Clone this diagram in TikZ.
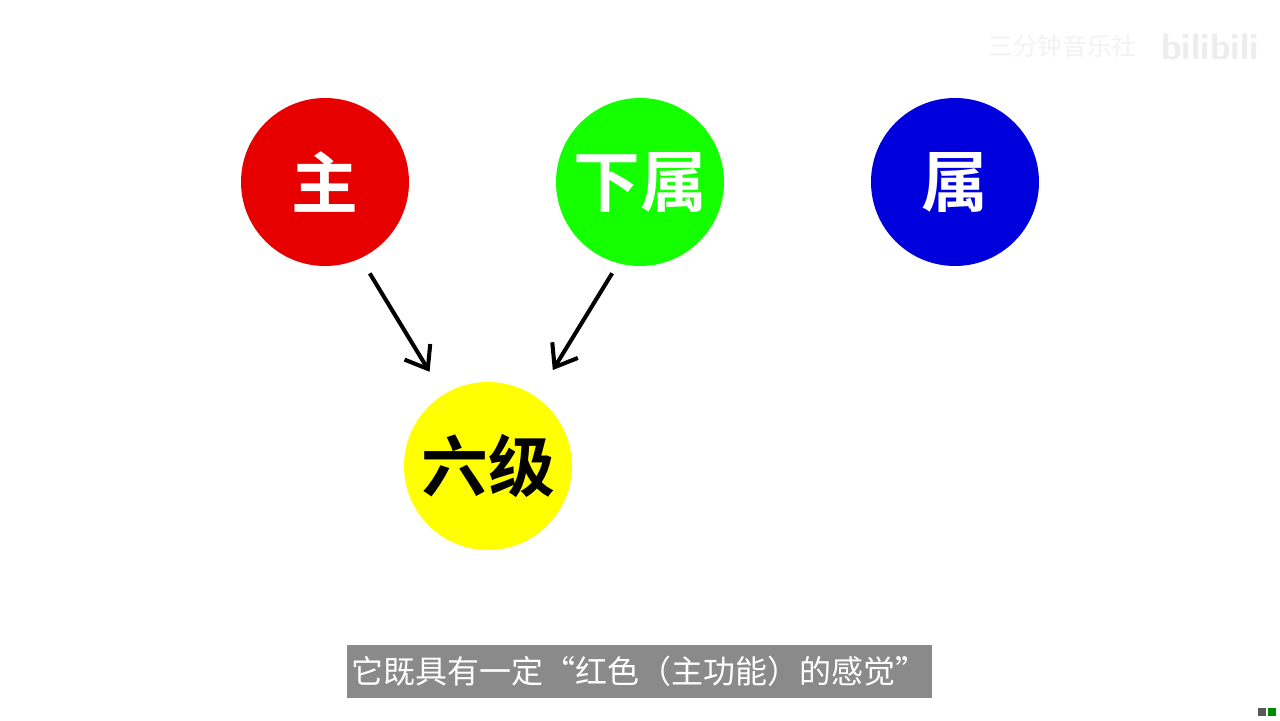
\documentclass[tikz,border=0pt]{standalone}
\usepackage{fontspec}
\newfontfamily\cjk{Noto Sans CJK SC}
\newfontfamily\cjkbold{Noto Sans CJK SC Bold}
\usepackage{xcolor}
\usetikzlibrary{arrows.meta,calc}
\definecolor{chordred}{HTML}{E60000}
\definecolor{chordgreen}{HTML}{14FF00}
\definecolor{chordblue}{HTML}{0000DD}
\definecolor{chordyellow}{HTML}{FFFF00}
\definecolor{subgray}{HTML}{8A8A8A}
\tikzset{>={Straight Barb[length=0.4cm,width=0.6cm]}}
\tikzset{ball/.style={circle,minimum size=3.36cm,inner sep=0pt,text=white,font=\cjkbold\fontsize{38}{38}\selectfont}}
\tikzset{flow/.style={->,line width=2.3pt,black}}

\begin{document}
\begin{tikzpicture}
  \useasboundingbox (0,0) rectangle (25.6,14.4);
  \fill[white] (0,0) rectangle (25.6,14.4);

  % function circles
  \node[ball,fill=chordred] (tonic) at (6.5,10.76) {主};
  \node[ball,fill=chordgreen] (subdom) at (12.8,10.76) {下属};
  \node[ball,fill=chordblue] (dom) at (19.1,10.76) {属};

  % sixth degree
  \node[ball,fill=chordyellow,text=black] (six) at (9.76,5.08) {六级};

  % arrows into the sixth
  \draw[flow,shorten <=0.35cm,shorten >=0.53cm] (tonic.295) -- (six.122);
  \draw[flow,shorten <=0.23cm,shorten >=0.63cm] (subdom.255) -- (six.55);

  % subtitle
  \node[fill=subgray,text=white,minimum width=11.7cm,minimum height=1.06cm,inner sep=0pt,
        font=\cjk\fontsize{18.2}{18.2}\selectfont] (caption) at (12.79,0.97)
        {它既具有一定“红色（主功能）的感觉”};

  % watermark
  \node[text=black!5,font=\cjk\fontsize{14}{14}\selectfont,anchor=east] (mark) at (22.85,13.48) {三分钟音乐社};
  \node[text=black!7,font=\sffamily\bfseries\fontsize{21}{21}\selectfont,anchor=west] (logo) at (23.1,13.46) {bilibili};

  % player badge
  \fill[black!65] (25.16,0.08) rectangle (25.32,0.24);
  \fill[green!55!black] (25.36,0.08) rectangle (25.52,0.24);
\end{tikzpicture}
\end{document}
